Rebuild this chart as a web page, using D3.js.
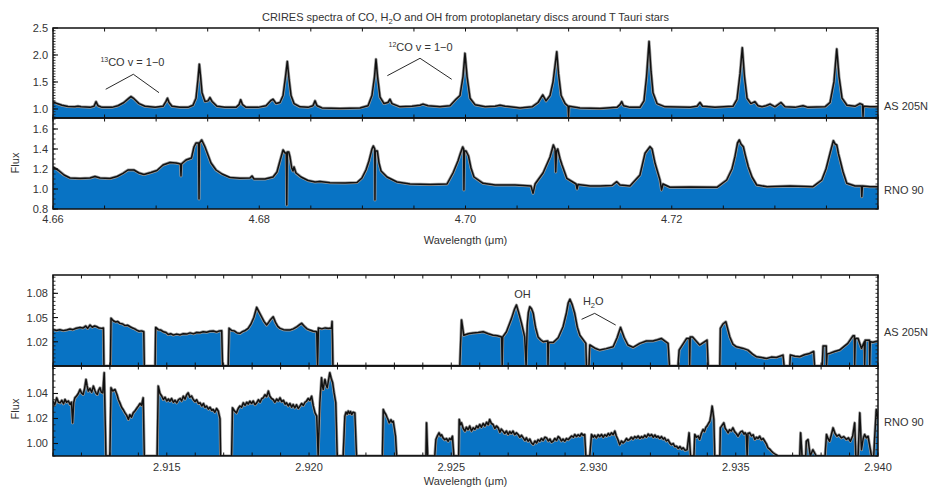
<!DOCTYPE html>
<html lang="en">
<head>
<meta charset="utf-8">
<title>CRIRES spectra of CO, H2O and OH</title>
<script src="https://d3js.org/d3.v7.min.js"></script>
<style>
  body { margin: 0; background: #fff; }
  text { font-family: "Liberation Sans", Arial, sans-serif; fill: #333; font-size: 11px; }
</style>
</head>
<body>
<script>

// ---- data: [wavelength (um), flux] ----
var as205CO = [
  [4.66000,1.135],[4.66039,1.10],[4.66087,1.07],[4.66145,1.045],[4.66213,1.04],[4.66242,1.05],[4.66272,1.04],
  [4.66359,1.03],[4.66398,1.05],[4.66417,1.135],[4.66436,1.06],[4.66475,1.03],[4.66572,1.03],[4.66630,1.06],
  [4.66688,1.12],[4.66737,1.20],[4.66756,1.23],[4.66785,1.19],[4.66834,1.10],[4.66892,1.05],[4.66989,1.03],
  [4.67067,1.05],[4.67096,1.14],[4.67110,1.20],[4.67125,1.12],[4.67154,1.05],[4.67232,1.03],[4.67309,1.03],
  [4.67358,1.07],[4.67387,1.20],[4.67406,1.55],[4.67419,1.83],[4.67431,1.60],[4.67445,1.30],[4.67474,1.14],
  [4.67503,1.15],[4.67522,1.21],[4.67542,1.14],[4.67590,1.05],[4.67668,1.03],[4.67775,1.03],[4.67804,1.08],
  [4.67820,1.17],[4.67838,1.08],[4.67872,1.03],[4.67988,1.03],[4.68066,1.06],[4.68115,1.16],[4.68134,1.18],
  [4.68164,1.10],[4.68201,1.12],[4.68231,1.25],[4.68255,1.60],[4.68272,1.88],[4.68289,1.55],[4.68308,1.25],
  [4.68337,1.10],[4.68395,1.04],[4.68473,1.03],[4.68521,1.06],[4.68541,1.15],[4.68560,1.06],[4.68608,1.02],
  [4.68783,1.01],[4.68977,1.02],[4.69055,1.06],[4.69093,1.25],[4.69118,1.60],[4.69132,1.92],[4.69147,1.60],
  [4.69171,1.22],[4.69210,1.10],[4.69248,1.12],[4.69268,1.18],[4.69287,1.10],[4.69365,1.04],[4.69481,1.05],
  [4.69559,1.07],[4.69588,1.09],[4.69636,1.06],[4.69753,1.04],[4.69850,1.06],[4.69908,1.18],[4.69947,1.25],
  [4.69976,1.60],[4.69995,2.03],[4.70015,1.60],[4.70044,1.20],[4.70092,1.08],[4.70190,1.04],[4.70287,1.05],
  [4.70335,1.07],[4.70384,1.05],[4.70529,1.02],[4.70646,1.04],[4.70704,1.12],[4.70749,1.26],[4.70781,1.15],
  [4.70820,1.25],[4.70849,1.50],[4.70885,2.06],[4.70902,1.65],[4.70927,1.25],[4.70966,1.10],[4.70995,1.05],
  [4.70999,0.86],[4.71004,1.05],[4.71110,1.02],[4.71304,1.01],[4.71469,1.03],[4.71498,1.08],[4.71515,1.135],
  [4.71532,1.06],[4.71595,1.03],[4.71692,1.03],[4.71731,1.15],[4.71756,1.60],[4.71780,2.25],[4.71799,1.70],
  [4.71818,1.30],[4.71857,1.10],[4.71935,1.04],[4.72177,1.03],[4.72245,1.05],[4.72274,1.12],[4.72298,1.05],
  [4.72419,1.03],[4.72594,1.05],[4.72633,1.18],[4.72662,1.65],[4.72684,2.135],[4.72705,1.60],[4.72730,1.20],
  [4.72768,1.10],[4.72807,1.135],[4.72836,1.06],[4.72875,1.04],[4.72914,1.06],[4.72953,1.09],[4.73001,1.04],
  [4.73059,1.12],[4.73098,1.04],[4.73195,1.03],[4.73273,1.06],[4.73321,1.03],[4.73486,1.04],[4.73535,1.12],
  [4.73573,1.50],[4.73600,2.11],[4.73622,1.60],[4.73651,1.20],[4.73699,1.07],[4.73777,1.05],[4.73825,1.10],
  [4.73850,1.08],[4.73855,0.86],[4.73859,1.05],[4.73922,1.04],[4.74000,1.04]
];

var rno90CO = [
  [4.66000,1.22],[4.66048,1.19],[4.66107,1.14],[4.66165,1.11],[4.66262,1.105],[4.66359,1.11],[4.66407,1.125],
  [4.66456,1.11],[4.66553,1.105],[4.66621,1.125],[4.66679,1.157],[4.66727,1.19],[4.66785,1.19],[4.66834,1.16],
  [4.66882,1.145],[4.66950,1.165],[4.67008,1.185],[4.67067,1.24],[4.67135,1.265],[4.67193,1.26],[4.67236,1.25],
  [4.67241,1.13],[4.67246,1.25],[4.67290,1.29],[4.67343,1.31],[4.67367,1.42],[4.67387,1.46],[4.67411,1.46],
  [4.67416,0.90],[4.67421,1.46],[4.67442,1.49],[4.67474,1.42],[4.67503,1.34],[4.67532,1.26],[4.67581,1.19],
  [4.67639,1.15],[4.67716,1.115],[4.67813,1.107],[4.67910,1.11],[4.67930,1.13],[4.67949,1.10],[4.68056,1.10],
  [4.68134,1.12],[4.68172,1.17],[4.68201,1.28],[4.68231,1.39],[4.68250,1.36],[4.68262,1.36],[4.68267,0.84],
  [4.68272,1.37],[4.68286,1.37],[4.68298,1.32],[4.68315,1.21],[4.68327,1.18],[4.68337,1.22],[4.68356,1.16],
  [4.68405,1.12],[4.68473,1.085],[4.68541,1.07],[4.68589,1.075],[4.68686,1.063],[4.68832,1.06],[4.68948,1.065],
  [4.68996,1.11],[4.69035,1.19],[4.69064,1.28],[4.69093,1.40],[4.69106,1.43],[4.69120,1.40],[4.69122,0.89],
  [4.69125,1.38],[4.69145,1.38],[4.69161,1.26],[4.69181,1.18],[4.69239,1.12],[4.69336,1.07],[4.69462,1.05],
  [4.69656,1.045],[4.69821,1.05],[4.69879,1.16],[4.69927,1.28],[4.69952,1.36],[4.69973,1.42],[4.69982,1.40],
  [4.69985,0.99],[4.69990,1.38],[4.70005,1.38],[4.70029,1.33],[4.70053,1.21],[4.70082,1.12],[4.70170,1.057],
  [4.70287,1.04],[4.70480,1.04],[4.70635,1.03],[4.70655,0.957],[4.70675,1.05],[4.70752,1.16],[4.70820,1.32],
  [4.70852,1.44],[4.70868,1.40],[4.70875,1.17],[4.70883,1.38],[4.70894,1.40],[4.70917,1.30],[4.70936,1.24],
  [4.70982,1.107],[4.71072,1.05],[4.71082,1.00],[4.71091,1.045],[4.71208,1.03],[4.71305,1.03],[4.71421,1.035],
  [4.71467,1.073],[4.71498,1.04],[4.71595,1.03],[4.71692,1.14],[4.71741,1.357],[4.71789,1.423],[4.71809,1.40],
  [4.71838,1.257],[4.71886,1.09],[4.71901,0.99],[4.71915,1.05],[4.71983,1.017],[4.72177,1.02],[4.72439,1.017],
  [4.72533,1.09],[4.72584,1.20],[4.72613,1.323],[4.72638,1.46],[4.72655,1.49],[4.72671,1.45],[4.72694,1.423],
  [4.72715,1.33],[4.72742,1.223],[4.72778,1.12],[4.72824,1.04],[4.72924,1.023],[4.73147,1.03],[4.73370,1.023],
  [4.73455,1.09],[4.73496,1.20],[4.73535,1.357],[4.73567,1.483],[4.73584,1.45],[4.73600,1.44],[4.73617,1.35],
  [4.73632,1.29],[4.73661,1.17],[4.73697,1.057],[4.73777,1.03],[4.73839,1.03],[4.73843,0.923],[4.73849,1.03],
  [4.73922,1.023],[4.74000,1.023]
];

// 0.99 = detector gap / masked region (drawn on the panel floor)
var as205OH = [
  [2.91100,1.0354],[2.91112,1.0340],[2.91124,1.0350],[2.91136,1.0338],[2.91148,1.0345],[2.91160,1.0358],
  [2.91170,1.0350],[2.91182,1.0368],[2.91195,1.0378],[2.91205,1.0370],[2.91215,1.0395],[2.91222,1.0365],
  [2.91230,1.0407],[2.91238,1.0380],[2.91246,1.0395],[2.91254,1.0386],[2.91262,1.0370],[2.91271,1.0366],
  [2.91277,1.0370],[2.91279,0.99],[2.91302,0.99],
  [2.91304,1.049],[2.91312,1.0460],[2.91320,1.0445],[2.91328,1.0450],[2.91335,1.0428],[2.91345,1.0420],
  [2.91353,1.0400],[2.91362,1.0405],[2.91371,1.0386],[2.91380,1.0370],[2.91387,1.0360],[2.91394,1.0345],
  [2.91403,1.0330],[2.91411,1.0335],[2.91419,1.0324],[2.91421,0.99],[2.91459,0.99],
  [2.91461,1.0378],[2.91470,1.0350],[2.91479,1.0345],[2.91488,1.0324],[2.91497,1.0315],[2.91505,1.0290],
  [2.91514,1.0300],[2.91523,1.0283],[2.91535,1.0295],[2.91547,1.0285],[2.91558,1.0300],[2.91570,1.0295],
  [2.91582,1.0310],[2.91594,1.0298],[2.91605,1.0315],[2.91617,1.0312],[2.91628,1.0325],[2.91640,1.0318],
  [2.91652,1.0330],[2.91663,1.0333],[2.91675,1.0320],[2.91685,1.0335],[2.91693,1.0336],[2.91696,0.99],
  [2.91716,0.99],
  [2.91719,1.0366],[2.91728,1.0340],[2.91737,1.0335],[2.91747,1.0310],[2.91757,1.0304],[2.91766,1.0325],
  [2.91776,1.0340],[2.91786,1.0366],[2.91796,1.0420],[2.91806,1.0500],[2.91816,1.0626],[2.91824,1.0570],
  [2.91833,1.051],[2.91842,1.0450],[2.91851,1.0407],[2.91858,1.0440],[2.91866,1.0480],[2.91874,1.051],
  [2.91882,1.0440],[2.91890,1.0390],[2.91898,1.0366],[2.91910,1.0350],[2.91921,1.0345],[2.91933,1.0345],
  [2.91945,1.0360],[2.91957,1.0385],[2.91966,1.0410],[2.91974,1.0428],[2.91984,1.0390],[2.91993,1.0360],
  [2.92003,1.0345],[2.92015,1.0330],[2.92027,1.0324],[2.92030,0.99],
  [2.92033,1.037],[2.92045,1.0360],[2.92057,1.0372],[2.92068,1.0365],[2.92079,1.037],[2.92081,1.045],
  [2.92084,0.99],[2.92530,0.99],
  [2.92536,1.047],[2.92544,1.028],[2.92560,1.0300],[2.92577,1.031],[2.92595,1.0315],[2.92612,1.0324],
  [2.92630,1.0300],[2.92647,1.028],[2.92662,1.0275],[2.92677,1.026],[2.92679,0.99],[2.92681,1.026],
  [2.92694,1.0324],[2.92712,1.049],[2.92722,1.0600],[2.92729,1.0655],[2.92737,1.0560],[2.92747,1.0428],
  [2.92758,1.026],[2.92763,0.99],[2.92767,1.04],[2.92771,1.0560],[2.92776,1.0634],[2.92782,1.0610],
  [2.92788,1.0552],[2.92796,1.0380],[2.92805,1.026],[2.92814,1.0225],[2.92823,1.020],[2.92839,1.021],
  [2.92840,0.99],[2.92842,1.019],[2.92858,1.019],[2.92876,1.0250],[2.92893,1.0386],[2.92905,1.0560],
  [2.92911,1.0680],[2.92917,1.0726],[2.92925,1.0660],[2.92934,1.055],[2.92943,1.0380],[2.92952,1.028],
  [2.92973,1.018],[2.92975,0.99],[2.92984,0.99],
  [2.92987,1.016],[2.93005,1.0120],[2.93022,1.0097],[2.93045,1.0115],[2.93069,1.0138],[2.93083,1.0250],
  [2.93095,1.0378],[2.93108,1.0250],[2.93121,1.016],[2.93139,1.013],[2.93163,1.018],[2.93186,1.021],
  [2.93209,1.021],[2.93225,1.0225],[2.93239,1.024],[2.93262,1.018],[2.93267,0.99],[2.93297,0.99],
  [2.93301,1.0097],[2.93327,1.024],[2.93337,1.024],[2.93338,0.99],[2.93340,1.026],[2.93348,1.026],
  [2.93373,1.016],[2.93399,1.022],[2.93403,0.99],[2.93444,0.99],
  [2.93446,1.0366],[2.93455,1.0420],[2.93465,1.0448],[2.93479,1.026],[2.93490,1.0170],[2.93502,1.0138],
  [2.93526,1.0118],[2.93543,1.0097],[2.93558,1.0050],[2.93573,1.0014],[2.93590,1.0005],[2.93608,0.9994],
  [2.93625,1.0010],[2.93643,1.0006],[2.93666,1.0035],[2.93670,0.99],[2.93690,0.99],
  [2.93692,1.0035],[2.93708,1.0020],[2.93725,1.0014],[2.93742,1.0040],[2.93760,1.0056],[2.93774,1.008],
  [2.93777,0.99],[2.93804,0.99],[2.93807,1.0147],[2.93818,1.0147],[2.93819,0.99],[2.93821,1.005],
  [2.93830,1.0056],[2.93848,1.0080],[2.93865,1.0097],[2.93880,1.0140],[2.93894,1.018],[2.93912,1.0274],
  [2.93917,1.0274],[2.93918,0.99],[2.93920,1.024],[2.93930,1.024],[2.93942,1.0118],[2.93952,1.02],
  [2.93953,0.99],[2.93955,1.022],[2.93970,1.022],[2.93971,0.99],[2.93973,1.02],[2.93982,1.0195],
  [2.94000,1.021]
];

var rno90OH = [
  [2.91100,1.0338],[2.91106,1.0310],[2.91113,1.0365],[2.91119,1.0330],[2.91125,1.0325],[2.91131,1.0345],
  [2.91137,1.0318],[2.91142,1.0352],[2.91148,1.0330],[2.91154,1.0340],[2.91160,1.0312],[2.91165,1.0330],
  [2.91169,1.0165],[2.91173,1.0330],[2.91177,1.0365],[2.91183,1.0380],[2.91189,1.0400],[2.91195,1.0432],
  [2.91200,1.0405],[2.91206,1.0392],[2.91211,1.0440],[2.91216,1.0512],[2.91220,1.0460],[2.91224,1.0419],
  [2.91230,1.0440],[2.91236,1.0410],[2.91242,1.0459],[2.91248,1.0420],[2.91252,1.0400],[2.91256,1.0392],
  [2.91261,1.0430],[2.91265,1.0446],[2.91270,1.0410],[2.91275,1.0405],[2.91280,1.0566],[2.91286,0.99],
  [2.91300,0.99],
  [2.91304,1.0446],[2.91310,1.0420],[2.91318,1.0432],[2.91325,1.0390],[2.91330,1.0350],[2.91335,1.0325],
  [2.91341,1.0290],[2.91347,1.0270],[2.91353,1.0245],[2.91359,1.0225],[2.91365,1.0192],[2.91370,1.0230],
  [2.91376,1.0210],[2.91382,1.0245],[2.91388,1.0260],[2.91394,1.0280],[2.91400,1.0299],[2.91406,1.0320],
  [2.91411,1.0305],[2.91417,1.0365],[2.91421,0.99],[2.91466,0.99],
  [2.91470,1.0459],[2.91476,1.0400],[2.91482,1.0380],[2.91488,1.0352],[2.91494,1.0370],[2.91500,1.0340],
  [2.91506,1.0355],[2.91511,1.0338],[2.91517,1.0360],[2.91523,1.0330],[2.91529,1.0345],[2.91535,1.0325],
  [2.91541,1.0350],[2.91547,1.0360],[2.91552,1.0340],[2.91558,1.0378],[2.91564,1.0355],[2.91570,1.0390],
  [2.91575,1.0405],[2.91581,1.0370],[2.91587,1.0380],[2.91593,1.0352],[2.91599,1.0335],[2.91605,1.0350],
  [2.91611,1.0320],[2.91617,1.0325],[2.91623,1.0300],[2.91629,1.0320],[2.91634,1.0290],[2.91640,1.0299],
  [2.91646,1.0275],[2.91652,1.0290],[2.91658,1.0265],[2.91663,1.0272],[2.91669,1.0250],[2.91675,1.0280],
  [2.91681,1.0259],[2.91687,1.0197],[2.91689,0.99],[2.91728,0.99],
  [2.91731,1.0285],[2.91738,1.0260],[2.91745,1.0245],[2.91751,1.0280],[2.91757,1.0300],[2.91763,1.0290],
  [2.91769,1.0325],[2.91775,1.0305],[2.91781,1.0330],[2.91786,1.0315],[2.91792,1.0338],[2.91798,1.0320],
  [2.91804,1.0340],[2.91810,1.0310],[2.91816,1.0325],[2.91822,1.0350],[2.91828,1.0330],[2.91834,1.0360],
  [2.91839,1.0365],[2.91845,1.0390],[2.91851,1.0375],[2.91857,1.0419],[2.91862,1.0380],[2.91868,1.0360],
  [2.91874,1.0352],[2.91880,1.0330],[2.91886,1.0355],[2.91892,1.0340],[2.91898,1.0365],[2.91904,1.0335],
  [2.91910,1.0345],[2.91916,1.0315],[2.91921,1.0325],[2.91927,1.0300],[2.91933,1.0320],[2.91939,1.0290],
  [2.91944,1.0312],[2.91950,1.0285],[2.91956,1.0310],[2.91962,1.0280],[2.91968,1.0299],[2.91974,1.0320],
  [2.91980,1.0305],[2.91986,1.0330],[2.91991,1.0338],[2.91997,1.0360],[2.92003,1.0345],[2.92009,1.0378],
  [2.92015,1.0300],[2.92021,1.0245],[2.92027,1.0219],[2.92032,0.99],
  [2.92038,1.0325],[2.92044,1.0526],[2.92047,1.0460],[2.92050,1.0432],[2.92053,1.0480],[2.92056,1.0512],
  [2.92060,1.0470],[2.92064,1.0446],[2.92068,1.0500],[2.92073,1.0566],[2.92078,1.0520],[2.92083,1.0486],
  [2.92088,1.0405],[2.92094,1.0325],[2.92099,0.99],[2.92120,0.99],
  [2.92126,1.0219],[2.92130,1.0250],[2.92134,1.0235],[2.92138,1.0259],[2.92142,1.0240],[2.92146,1.0255],
  [2.92150,1.0232],[2.92155,1.0250],[2.92161,1.0245],[2.92167,0.99],[2.92258,0.99],
  [2.92261,1.0272],[2.92265,1.0250],[2.92270,1.0232],[2.92274,1.0210],[2.92278,1.0190],[2.92282,1.0165],
  [2.92288,1.0190],[2.92292,1.0170],[2.92296,1.0178],[2.92300,1.0120],[2.92304,1.0058],[2.92308,0.99],
  [2.92411,0.99],[2.92413,1.0165],[2.92417,0.99],[2.92442,0.99],
  [2.92446,1.0032],[2.92451,1.0060],[2.92457,1.0085],[2.92462,1.0060],[2.92466,1.0070],[2.92471,1.0045],
  [2.92477,1.0030],[2.92483,1.0040],[2.92489,1.0018],[2.92494,1.0040],[2.92499,1.0030],[2.92504,1.0058],
  [2.92509,0.99],[2.92526,0.99],
  [2.92528,1.0192],[2.92532,1.0150],[2.92536,1.0165],[2.92542,1.0120],[2.92548,1.0099],[2.92553,1.0130],
  [2.92559,1.0110],[2.92565,1.0139],[2.92571,1.0100],[2.92577,1.0125],[2.92583,1.0112],[2.92589,1.0140],
  [2.92594,1.0125],[2.92600,1.0152],[2.92606,1.0130],[2.92612,1.0160],[2.92618,1.0139],[2.92624,1.0170],
  [2.92630,1.0150],[2.92635,1.0192],[2.92641,1.0160],[2.92647,1.0152],[2.92653,1.0120],[2.92659,1.0140],
  [2.92665,1.0125],[2.92671,1.0090],[2.92676,1.0115],[2.92682,1.0099],[2.92688,1.0080],[2.92694,1.0100],
  [2.92700,1.0072],[2.92706,1.0095],[2.92711,1.0080],[2.92717,1.0099],[2.92723,1.0070],[2.92729,1.0085],
  [2.92735,1.0072],[2.92741,1.0050],[2.92747,1.0065],[2.92753,1.0045],[2.92759,1.0025],[2.92764,1.0045],
  [2.92770,1.0018],[2.92776,1.0035],[2.92782,1.0005],[2.92788,0.9992],[2.92794,1.0020],[2.92800,1.0005],
  [2.92805,1.0030],[2.92811,1.0018],[2.92817,1.0040],[2.92823,1.0025],[2.92829,1.0050],[2.92835,1.0045],
  [2.92841,1.0020],[2.92847,1.0035],[2.92852,1.0010],[2.92858,1.0018],[2.92864,1.0040],[2.92870,1.0025],
  [2.92876,1.0055],[2.92881,1.0045],[2.92887,1.0020],[2.92893,1.0035],[2.92899,1.0018],[2.92905,1.0040],
  [2.92911,1.0030],[2.92917,1.0045],[2.92923,1.0060],[2.92929,1.0050],[2.92934,1.0072],[2.92940,1.0055],
  [2.92946,1.0070],[2.92952,1.0058],[2.92958,1.0080],[2.92964,1.0065],[2.92969,1.0072],[2.92973,0.99],
  [2.92987,0.99],
  [2.92993,1.0072],[2.92999,1.0050],[2.93004,1.0065],[2.93010,1.0045],[2.93016,1.0070],[2.93022,1.0055],
  [2.93028,1.0072],[2.93034,1.0050],[2.93040,1.0070],[2.93046,1.0058],[2.93052,1.0080],[2.93057,1.0065],
  [2.93063,1.0085],[2.93069,1.0070],[2.93075,1.0099],[2.93080,1.0060],[2.93086,1.0030],[2.93092,0.9990],
  [2.93098,1.0020],[2.93104,1.0005],[2.93110,1.0018],[2.93116,1.0040],[2.93121,1.0025],[2.93127,1.0032],
  [2.93133,1.0050],[2.93139,1.0035],[2.93145,1.0055],[2.93151,1.0045],[2.93157,1.0060],[2.93163,1.0040],
  [2.93169,1.0055],[2.93174,1.0045],[2.93180,1.0065],[2.93186,1.0050],[2.93192,1.0075],[2.93198,1.0060],
  [2.93204,1.0072],[2.93210,1.0050],[2.93216,1.0068],[2.93221,1.0050],[2.93227,1.0058],[2.93233,1.0040],
  [2.93239,1.0055],[2.93245,1.0035],[2.93250,1.0045],[2.93256,1.0020],[2.93262,1.0030],[2.93268,1.0005],
  [2.93274,0.9990],[2.93280,1.0000],[2.93286,0.9975],[2.93292,0.9978],[2.93298,0.9960],[2.93304,0.9975],
  [2.93310,0.9955],[2.93315,0.9966],[2.93322,0.9945],[2.93329,0.9950],[2.93336,1.0085],[2.93341,0.99],
  [2.93353,0.99],
  [2.93356,1.0072],[2.93362,1.0050],[2.93368,1.0060],[2.93373,1.0032],[2.93379,1.0080],[2.93385,1.0112],
  [2.93390,1.0095],[2.93395,1.0130],[2.93399,1.0139],[2.93404,1.0160],[2.93409,1.0178],[2.93413,1.0230],
  [2.93417,1.0299],[2.93420,1.0250],[2.93423,1.0192],[2.93426,0.99],[2.93444,0.99],
  [2.93446,1.0125],[2.93452,1.0145],[2.93458,1.0165],[2.93463,1.0120],[2.93468,1.0105],[2.93473,1.0085],
  [2.93478,1.0110],[2.93484,1.0100],[2.93490,1.0125],[2.93496,1.0095],[2.93502,1.0080],[2.93508,1.0058],
  [2.93513,1.0080],[2.93518,1.0095],[2.93523,1.0099],[2.93529,1.0075],[2.93533,1.0085],[2.93537,1.0072],
  [2.93540,0.99],[2.93543,1.0080],[2.93549,1.0085],[2.93555,1.0060],[2.93561,1.0070],[2.93567,1.0032],
  [2.93573,1.0050],[2.93578,1.0040],[2.93584,1.0058],[2.93590,1.0030],[2.93596,1.0040],[2.93602,1.0018],
  [2.93608,0.9995],[2.93613,0.9966],[2.93619,0.9955],[2.93625,0.9940],[2.93631,0.9926],[2.93640,0.9912],
  [2.93649,0.99],[2.93725,0.99],
  [2.93728,1.0085],[2.93733,0.99],[2.93746,0.99],[2.93748,1.0018],[2.93754,1.0032],[2.93762,0.99],
  [2.93771,0.9950],[2.93783,0.99],[2.93814,0.99],
  [2.93819,1.0072],[2.93824,1.0040],[2.93830,1.0018],[2.93836,1.0070],[2.93842,1.0125],[2.93849,1.0080],
  [2.93856,1.0058],[2.93863,1.0070],[2.93871,1.0045],[2.93880,1.0055],[2.93889,1.0032],[2.93896,1.0045],
  [2.93903,1.0018],[2.93911,1.0060],[2.93918,1.0165],[2.93922,0.99],[2.93930,0.99],[2.93936,1.0245],
  [2.93942,0.9950],[2.93948,1.0040],[2.93953,1.0072],[2.93959,1.0045],[2.93965,1.0058],[2.93977,0.99],
  [2.93985,0.99],[2.93988,1.0032],[2.93994,1.0272],[2.94000,1.0200]
];

var starNames = ["AS 205N", "RNO 90"];
var coWaveTicks = [4.66, 4.68, 4.70, 4.72];
var ohWaveTicks = [2.915, 2.920, 2.925, 2.930, 2.935, 2.940];
var fluxTicksA = [1.0, 1.5, 2.0, 2.5];
var fluxTicksB = [0.8, 1.0, 1.2, 1.4, 1.6];
var fluxTicksC = [1.02, 1.05, 1.08];
var fluxTicksD = [1.00, 1.02, 1.04];

var W = 934, H = 488, X0 = 53, X1 = 878;
var blue = "#0873c4";

var svg = d3.select("body").append("svg")
    .attr("width", W).attr("height", H);

var xCO = d3.scaleLinear().domain([4.66, 4.74]).range([X0, X1]);
var xOH = d3.scaleLinear().domain([2.911, 2.94]).range([X0, X1]);

var clipN = 0;

function drawPanel(p) {
  var y = d3.scaleLinear().domain(p.dom).range([p.bot, p.top]).clamp(true);
  var x = p.x;
  var g = svg.append("g");
  var id = "clip" + (clipN++);
  svg.append("clipPath").attr("id", id).append("rect")
    .attr("x", X0).attr("y", p.top).attr("width", X1 - X0).attr("height", p.bot - p.top);

  var area = d3.area().x(function(d) { return x(d[0]); })
      .y0(p.bot).y1(function(d) { return y(d[1]); });
  var line = d3.line().x(function(d) { return x(d[0]); })
      .y(function(d) { return y(d[1]); });

  var c = g.append("g").attr("clip-path", "url(#" + id + ")");
  c.append("path").datum(p.data).attr("d", area).attr("fill", blue);
  c.append("path").datum(p.data).attr("d", line)
    .attr("fill", "none").attr("stroke", "#9a9a9a").attr("stroke-width", 3)
    .attr("stroke-linejoin", "round");
  c.append("path").datum(p.data).attr("d", line)
    .attr("fill", "none").attr("stroke", "#111").attr("stroke-width", 1.5)
    .attr("stroke-linejoin", "round");

  // x ticks on top and bottom edges
  var xt = x.ticks(p.xCount);
  g.selectAll(null).data(xt).enter().append("line")
    .attr("x1", x).attr("x2", x).attr("y1", p.top).attr("y2", p.top + 3.5)
    .attr("stroke", "#111").attr("stroke-width", 1);
  g.selectAll(null).data(xt).enter().append("line")
    .attr("x1", x).attr("x2", x).attr("y1", p.bot).attr("y2", p.bot - 3.5)
    .attr("stroke", "#111").attr("stroke-width", 1);

  // y minor ticks left and right
  var minor = d3.range(Math.ceil(p.dom[0] / p.minor) * p.minor, p.dom[1], p.minor);
  g.selectAll(null).data(minor).enter().append("line")
    .attr("x1", X0).attr("x2", X0 + 2.5).attr("y1", y).attr("y2", y)
    .attr("stroke", "#222").attr("stroke-width", 0.9);
  g.selectAll(null).data(minor).enter().append("line")
    .attr("x1", X1 - 2.5).attr("x2", X1).attr("y1", y).attr("y2", y)
    .attr("stroke", "#222").attr("stroke-width", 0.9);

  // y major ticks + labels
  g.selectAll(null).data(p.ticks).enter().append("line")
    .attr("x1", X0).attr("x2", X0 + 5).attr("y1", y).attr("y2", y)
    .attr("stroke", "#111").attr("stroke-width", 1.1);
  g.selectAll(null).data(p.ticks).enter().append("text")
    .attr("x", X0 - 5).attr("y", y).attr("dy", "0.36em")
    .attr("text-anchor", "end")
    .text(d3.format(p.fmt));

  // frame
  g.append("rect").attr("x", X0).attr("y", p.top)
    .attr("width", X1 - X0).attr("height", p.bot - p.top)
    .attr("fill", "none").attr("stroke", "#111").attr("stroke-width", 1.5);

  svg.append("text").attr("x", 884).attr("y", p.nameY).attr("dy", "0.36em")
    .text(p.name);

  return y;
}

// ---- top figure: CO ----
svg.append("text").attr("x", (X0 + X1) / 2).attr("y", 21).attr("text-anchor", "middle")
  .call(function(t) {
    t.append("tspan").text("CRIRES spectra of CO, H");
    t.append("tspan").attr("dy", 3).style("font-size", "7.5px").text("2");
    t.append("tspan").attr("dy", -3).text("O and OH from protoplanetary discs around T Tauri stars");
  });

var yA = drawPanel({data: as205CO, x: xCO, xCount: 16, top: 28, bot: 118, dom: [0.833, 2.5],
  ticks: fluxTicksA, minor: 0.05, fmt: ".1f", name: starNames[0], nameY: 106});
var yB = drawPanel({data: rno90CO, x: xCO, xCount: 16, top: 118, bot: 209, dom: [0.8, 1.71],
  ticks: fluxTicksB, minor: 0.05, fmt: ".1f", name: starNames[1], nameY: 190});

svg.selectAll(null).data(coWaveTicks).enter().append("text")
  .attr("x", xCO).attr("y", 223).attr("text-anchor", "middle")
  .text(d3.format(".2f"));
svg.append("text").attr("x", (X0 + X1) / 2).attr("y", 244).attr("text-anchor", "middle")
  .text("Wavelength (\u03bcm)");
svg.append("text").attr("transform", "translate(19,163) rotate(-90)")
  .attr("text-anchor", "middle").text("Flux");

// ---- bottom figure: OH / H2O ----
var yC = drawPanel({data: as205OH, x: xOH, xCount: 29, top: 275, bot: 366, dom: [0.99, 1.1027],
  ticks: fluxTicksC, minor: 0.005, fmt: ".2f", name: starNames[0], nameY: 332});
var yD = drawPanel({data: rno90OH, x: xOH, xCount: 29, top: 366, bot: 456, dom: [0.99, 1.062],
  ticks: fluxTicksD, minor: 0.005, fmt: ".2f", name: starNames[1], nameY: 422});

svg.selectAll(null).data(ohWaveTicks).enter().append("text")
  .attr("x", xOH).attr("y", 471).attr("text-anchor", "middle")
  .text(d3.format(".3f"));
svg.append("text").attr("x", (X0 + X1) / 2).attr("y", 485).attr("text-anchor", "middle")
  .text("Wavelength (\u03bcm)");
svg.append("text").attr("transform", "translate(19,409) rotate(-90)")
  .attr("text-anchor", "middle").text("Flux");

// ---- annotations ----
function isoLabel(x, y, txt, pre, sub, post, ax, ay, lines) {
  var t = svg.append("text").attr("x", x(ax)).attr("y", y(ay)).attr("dy", "0.36em")
    .attr("text-anchor", "middle");
  if (pre) t.append("tspan").attr("dy", "-0.05em").style("font-size", "7px").text(pre);
  t.append("tspan").attr("dy", pre ? "0.41em" : null).text(txt);
  if (sub) {
    t.append("tspan").attr("dy", 3).style("font-size", "7.5px").text(sub);
    t.append("tspan").attr("dy", -3).text(post);
  }
  if (lines) {
    svg.append("path").datum(lines)
      .attr("d", d3.line().x(function(d) { return x(d[0]); }).y(function(d) { return y(d[1]); }))
      .attr("fill", "none").attr("stroke", "#111").attr("stroke-width", 0.9);
  }
}

isoLabel(xCO, yA, "CO v = 1\u22120", "13", null, null, 4.6677, 1.87,
  [[4.66511, 1.365], [4.66779, 1.643], [4.67028, 1.302]]);
isoLabel(xCO, yA, "CO v = 1\u22120", "12", null, null, 4.69564, 2.148,
  [[4.69242, 1.617], [4.69559, 1.939], [4.69866, 1.55]]);
isoLabel(xOH, yC, "OH", null, null, null, 2.92750, 1.0791, null);
isoLabel(xOH, yC, "H", null, "2", "O", 2.92999, 1.0705,
  [[2.92958, 1.0478], [2.93004, 1.0552], [2.93078, 1.0407]]);

</script>
</body>
</html>
